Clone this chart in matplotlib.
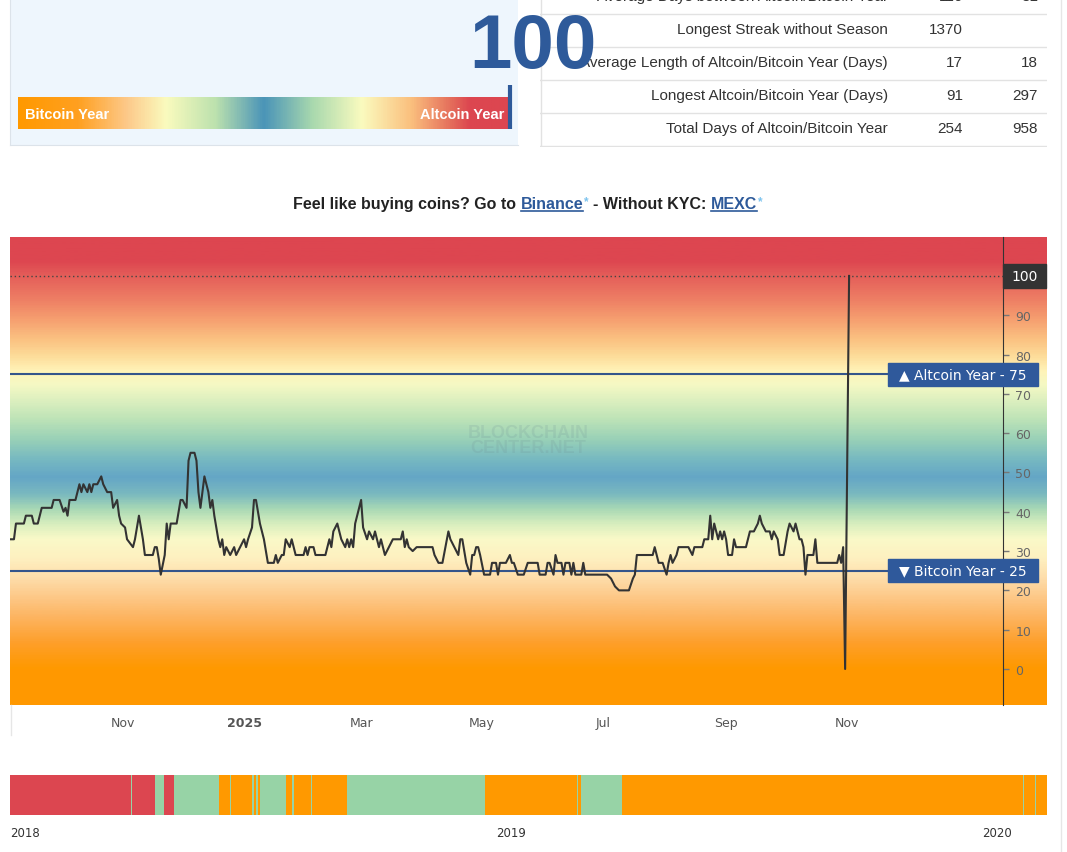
import numpy as np
import matplotlib
matplotlib.use("Agg")
import matplotlib.pyplot as plt
import matplotlib.dates as mdates
from matplotlib.colors import LinearSegmentedColormap
from matplotlib.patches import Rectangle
from matplotlib.lines import Line2D
from matplotlib.transforms import blended_transform_factory

W, H = 1067, 853

# ---- values ----
current_index = 100

idx_start = np.datetime64("2024-09-05")
idx_day = [0, 2, 3, 7, 8, 11, 12, 14, 16, 21,
           22, 25, 27, 28, 29, 30, 33, 35, 36, 37,
           39, 40, 41, 42, 44, 46, 47, 49, 51, 52,
           54, 55, 56, 58, 59, 62, 63, 65, 67, 68,
           72, 73, 74, 75, 76, 78, 79, 80, 81, 84,
           86, 87, 89, 90, 91, 93, 94, 95, 96, 98,
           100, 101, 102, 103, 104, 105, 106, 107, 108, 109,
           111, 113, 114, 116, 118, 119, 120, 122, 123, 124,
           126, 128, 130, 133, 134, 135, 137, 138, 139, 141,
           142, 144, 148, 149, 150, 151, 153, 154, 159, 161,
           162, 163, 165, 166, 167, 169, 170, 171, 172, 173,
           174, 177, 178, 180, 181, 183, 184, 186, 187, 189,
           191, 193, 197, 198, 199, 200, 201, 203, 205, 213,
           214, 216, 218, 221, 222, 224, 226, 227, 228, 229,
           230, 232, 233, 234, 235, 236, 237, 239, 242, 243,
           245, 246, 247, 250, 252, 253, 254, 256, 259, 261,
           266, 267, 270, 271, 272, 274, 275, 276, 278, 279,
           280, 282, 283, 284, 285, 288, 289, 290, 301, 303,
           305, 307, 312, 314, 315, 316, 324, 325, 327, 329,
           331, 332, 333, 334, 336, 337, 342, 344, 345, 349,
           350, 352, 353, 354, 355, 356, 357, 358, 359, 360,
           361, 362, 364, 365, 366, 371, 373, 375, 377, 378,
           379, 381, 383, 384, 385, 387, 388, 390, 392, 393,
           395, 396, 398, 399, 400, 401, 402, 405, 406, 407,
           417, 418, 419, 420, 421, 423]
idx_val = [33, 33, 37, 37, 39, 39, 37, 37, 41, 41,
           43, 43, 40, 41, 39, 43, 43, 47, 45, 47,
           45, 47, 45, 47, 47, 49, 47, 45, 45, 41,
           43, 39, 37, 36, 33, 31, 33, 39, 33, 29,
           29, 31, 31, 28, 24, 29, 37, 33, 37, 37,
           43, 43, 41, 53, 55, 55, 53, 45, 41, 49,
           45, 41, 43, 39, 36, 33, 31, 33, 29, 31,
           29, 31, 29, 31, 33, 31, 33, 36, 43, 43,
           37, 33, 27, 27, 29, 27, 29, 29, 33, 31,
           33, 29, 29, 31, 29, 31, 31, 29, 29, 33,
           31, 35, 37, 35, 33, 31, 33, 31, 33, 31,
           37, 43, 36, 33, 35, 33, 35, 31, 33, 29,
           31, 33, 33, 35, 31, 33, 31, 30, 31, 31,
           29, 27, 27, 35, 33, 31, 29, 33, 33, 30,
           27, 24, 29, 29, 31, 31, 29, 24, 24, 27,
           27, 24, 27, 27, 29, 27, 27, 24, 24, 27,
           27, 24, 24, 27, 27, 24, 29, 27, 27, 24,
           27, 27, 24, 27, 24, 24, 27, 24, 24, 23,
           21, 20, 20, 23, 24, 29, 29, 31, 27, 27,
           24, 27, 29, 27, 29, 31, 31, 29, 31, 31,
           33, 33, 39, 33, 37, 35, 33, 35, 33, 35,
           33, 29, 29, 33, 31, 31, 35, 35, 37, 39,
           37, 35, 35, 33, 35, 33, 29, 29, 35, 37,
           35, 37, 33, 33, 31, 24, 29, 29, 33, 27,
           27, 29, 27, 31, 0, 100]

month_ticks = ["2024-11-01", "2025-01-01", "2025-03-01", "2025-05-01",
               "2025-07-01", "2025-09-01", "2025-11-01"]
month_labels = ["Nov", "2025", "Mar", "May", "Jul", "Sep", "Nov"]

stat_names = ["Average Days between Altcoin/Bitcoin Year",
              "Longest Streak without Season",
              "Average Length of Altcoin/Bitcoin Year (Days)",
              "Longest Altcoin/Bitcoin Year (Days)",
              "Total Days of Altcoin/Bitcoin Year"]
stat_alt = ["116", "1370", "17", "91", "254"]
stat_btc = ["31", "", "18", "297", "958"]

season_start = np.datetime64("2018-01-01")
season_edges = [0, 91, 92, 109, 116, 123, 157, 165, 166, 182, 183, 185, 186, 188,
                207, 212, 213, 226, 227, 253, 357, 426, 427, 429, 460, 761, 762,
                770, 771, 779]
season_state = ["A", "N", "A", "N", "A", "N", "B", "N", "B", "N", "B", "N", "B",
                "N", "B", "N", "B", "N", "B", "N", "B", "N", "B", "N", "B", "N",
                "B", "N", "B"]
season_years = ["2018-01-01", "2019-01-01", "2020-01-01"]


def rect(x0, y0, x1, y1):
    return [x0 / W, 1 - y1 / H, (x1 - x0) / W, (y1 - y0) / H]


fig = plt.figure(figsize=(W / 100, H / 100), dpi=100)
fig.patch.set_facecolor("white")
SANS = "Liberation Sans"

# ---- top left panel with gradient bar ----
pan = fig.add_axes(rect(10, 0, 518, 146))
pan.set_facecolor("#EEF6FD")
pan.set_xticks([])
pan.set_yticks([])
for s in ["top", "right"]:
    pan.spines[s].set_visible(False)
for s in ["left", "bottom"]:
    pan.spines[s].set_color("#DCE3EA")

bar_stops = [(0.0, "#FF9900"), (0.12, "#FFA020"), (0.22, "#FDC98A"), (0.30, "#FAFBBE"),
             (0.40, "#BDE2AE"), (0.50, "#4A94B8"), (0.60, "#A9D9AE"), (0.70, "#FAFBBF"),
             (0.80, "#FBC07E"), (0.88, "#E5705C"), (0.92, "#DC4650"), (1.0, "#DC4650")]
bar = fig.add_axes(rect(18, 98, 510, 130))
bar.imshow(np.linspace(0, 1, 600).reshape(1, -1), aspect="auto",
           cmap=LinearSegmentedColormap.from_list("bar", bar_stops), extent=(0, 100, 0, 1))
bar.set_xlim(0, 100)
bar.set_ylim(0, 1)
bar.axis("off")
bar.text(1.4, 0.48, "Bitcoin Year", color="white", weight="bold", fontsize=10.5,
         va="center", ha="left", family=SANS)
bar.text(98.8, 0.48, "Altcoin Year", color="white", weight="bold", fontsize=10.5,
         va="center", ha="right", family=SANS)
bar.plot([current_index, current_index], [0, 1.375], color="#2E5A9A", lw=3,
         clip_on=False, solid_capstyle="butt")

# ---- stats table ----
tab = fig.add_axes(rect(540, 0, 1047, 148))
tab.set_xlim(540, 1047)
tab.set_ylim(148, 0)
tab.axis("off")
for yy in [15, 48, 81, 114, 147]:
    tab.plot([540, 1047], [yy, yy], color="#E2E2E2", lw=1)
tab.plot([540.5, 540.5], [0, 147], color="#E2E2E2", lw=1)
for i, (name, a, b) in enumerate(zip(stat_names, stat_alt, stat_btc)):
    yy = -3 + 33 * i
    tab.text(888, yy, name, ha="right", va="center", fontsize=11, color="#333333", family=SANS)
    tab.text(963, yy, a, ha="right", va="center", fontsize=11, color="#333333", family=SANS)
    tab.text(1038, yy, b, ha="right", va="center", fontsize=11, color="#333333", family=SANS)

fig.text(533 / W, 1 - 68 / H, str(current_index), ha="center", va="baseline",
         fontsize=55, weight="bold", color="#2E5A9A", family=SANS)

# ---- title line ----
renderer = fig.canvas.get_renderer()
fs = 11.5
space = 0.278 * fs * 100 / 72
pieces = [("Feel like buying coins? Go to", "#222222", fs, False, 0, space),
          ("Binance", "#2E5A9A", fs, True, 0, 1),
          ("*", "#7CC3EE", 8.5, False, 4, space),
          ("- Without KYC:", "#222222", fs, False, 0, space),
          ("MEXC", "#2E5A9A", fs, True, 0, 1),
          ("*", "#7CC3EE", 8.5, False, 4, 0)]
base = 209
drawn = []
for txt, col, size, und, rise, gap in pieces:
    t = fig.text(0, 1 - (base - rise) / H, txt, color=col, fontsize=size, weight="bold",
                 family=SANS, va="baseline", ha="left")
    drawn.append((t, und, gap))
total = sum(t.get_window_extent(renderer).width + g for t, u, g in drawn)
x = 528 - total / 2
for t, und, gap in drawn:
    w = t.get_window_extent(renderer).width
    t.set_x(x / W)
    if und:
        fig.add_artist(Line2D([x / W, (x + w) / W], [1 - (base + 2.5) / H] * 2,
                              color="#2E5A9A", lw=1.2))
    x += w + gap

# ---- main chart ----
ymin, ymax = -9.16, 109.9
grad_vals = [-9.2, 0, 6.4, 12.7, 17.8, 22.9, 28, 33, 36.9, 40.7, 44.5, 48.9, 53.4,
             58.5, 63.6, 69, 72.5, 76, 80, 84, 89, 94, 100, 104, 110]
grad_cols = ["#FF9800", "#FF9900", "#FE9F2A", "#FDB35E", "#FDC785", "#FEDDAA", "#FEF0C0",
             "#FAF9C8", "#D7EEBE", "#A8D8B5", "#7AB9BF", "#64A6C6", "#77B9C1", "#99D1B7",
             "#BDE3B7", "#E0F1C0", "#F5F9C4", "#FFF3B8", "#FDDB98", "#FBC282", "#F6A070",
             "#EE8065", "#E5605A", "#DD4650", "#DD4650"]
pos = [(v - grad_vals[0]) / (grad_vals[-1] - grad_vals[0]) for v in grad_vals]
cm_bg = LinearSegmentedColormap.from_list("bg", list(zip(pos, grad_cols)))

bg = fig.add_axes(rect(10, 238, 1047, 706))
bg.imshow(np.linspace(ymin, ymax, 600).reshape(-1, 1), aspect="auto", origin="lower",
          extent=(0, 1, ymin, ymax), cmap=cm_bg, vmin=grad_vals[0], vmax=grad_vals[-1])
bg.set_xlim(0, 1)
bg.set_ylim(ymin, ymax)
bg.axis("off")

ax = fig.add_axes(rect(10, 238, 1003, 706))
ax.patch.set_alpha(0)
dates = idx_start + np.array(idx_day).astype("timedelta64[D]")
ax.plot(dates, idx_val, color="#333333", lw=1.5, zorder=4)
ax.axhline(75, color="#34558B", lw=1.5, zorder=3)
ax.axhline(25, color="#34558B", lw=1.5, zorder=3)
ax.axhline(100, color="#444444", lw=1, ls=(0, (1, 2)), zorder=3)
ax.set_ylim(ymin, ymax)
ax.set_xlim(np.datetime64("2024-09-05"), np.datetime64("2026-01-18T14"))

for s in ["top", "left", "bottom"]:
    ax.spines[s].set_visible(False)
ax.spines["right"].set_color("#333333")
ax.yaxis.tick_right()
ax.set_yticks(range(0, 100, 10))
ax.tick_params(axis="y", length=4, width=1, color="#777777", pad=5,
               labelcolor="#666666", labelsize=9)
ax.set_xticks([np.datetime64(d) for d in month_ticks])
ax.set_xticklabels(month_labels)
ax.tick_params(axis="x", length=0, pad=15, labelcolor="#555555", labelsize=9)
plt.setp(ax.get_xticklabels(), va="baseline")
ax.get_xticklabels()[1].set_fontweight("bold")

tr = blended_transform_factory(ax.transAxes, ax.transData)
ax.add_patch(Rectangle((1.0, current_index - 3.05), 0.0433, 6.1, transform=tr,
                       color="#333333", clip_on=False, zorder=6))
ax.text(1.0217, current_index, str(current_index), transform=tr, ha="center", va="center",
        color="white", fontsize=10, zorder=7)
for lvl, label in [(75, "\u25B2 Altcoin Year - 75"), (25, "\u25BC Bitcoin Year - 25")]:
    ax.add_patch(Rectangle((0.8842, lvl - 2.93), 0.1511, 5.86, transform=tr,
                           color="#2F599B", clip_on=False, zorder=6))
    ax.text(0.9597, lvl, label, transform=tr, ha="center", va="center", color="white",
            fontsize=10, zorder=7)

ax.text(0.5217, 0.566, "BLOCKCHAIN\nCENTER.NET", transform=ax.transAxes, ha="center",
        va="center", fontsize=13, weight="bold", color="#6F8F95", alpha=0.18,
        linespacing=0.9, family=SANS)

fig.add_artist(Line2D([10.5 / W] * 2, [1 - 706 / H, 1 - 736 / H], color="#E6E6E6", lw=1))
fig.add_artist(Line2D([1060.5 / W] * 2, [0, 1], color="#E6E6E6", lw=1))

# ---- season overview strip ----
st = fig.add_axes(rect(10, 776, 1047, 816))
s0 = mdates.date2num(season_start)
state_col = {"A": "#DC4650", "N": "#97D3A6", "B": "#FF9900"}
for a, b, s in zip(season_edges[:-1], season_edges[1:], season_state):
    st.barh(0, b - a, left=s0 + a, height=1, color=state_col[s], linewidth=0)
st.set_xlim(s0, s0 + season_edges[-1])
st.set_ylim(-0.5, 0.5)
for s in st.spines.values():
    s.set_visible(False)
st.set_yticks([])
st.set_xticks([mdates.date2num(np.datetime64(d)) for d in season_years])
st.set_xticklabels([d[:4] for d in season_years])
st.tick_params(axis="x", length=0, pad=8, labelcolor="#333333", labelsize=8.5)
plt.setp(st.get_xticklabels(), ha="left")

fig.savefig("out.png", dpi=100, facecolor="white")
